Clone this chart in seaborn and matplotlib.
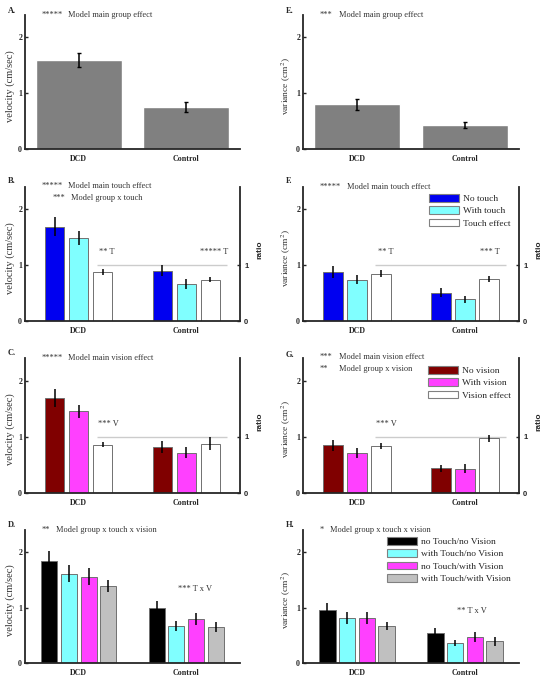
import matplotlib
matplotlib.use("Agg")
import matplotlib.pyplot as plt
from matplotlib.patches import Patch
from matplotlib.container import BarContainer
import seaborn as sns
import pandas as pd

# groups on the x axis
groups = ["DCD", "Control"]

# A / E: main group effect
vel_group = [1.59, 0.76]
vel_group_err = [0.13, 0.09]
var_group = [0.80, 0.43]
var_group_err = [0.095, 0.06]

# B / F: touch conditions (rows = condition, cols = group)
touch_conds = ["No touch", "With touch", "Touch effect"]
vel_touch = [[1.69, 0.90], [1.49, 0.66], [0.88, 0.74]]
vel_touch_err = [[0.17, 0.10], [0.12, 0.09], [0.05, 0.05]]
var_touch = [[0.88, 0.51], [0.74, 0.39], [0.845, 0.756]]
var_touch_err = [[0.11, 0.085], [0.085, 0.065], [0.06, 0.055]]

# C / G: vision conditions
vision_conds = ["No vision", "With vision", "Vision effect"]
vel_vision = [[1.69, 0.82], [1.45, 0.72], [0.86, 0.88]]
vel_vision_err = [[0.16, 0.10], [0.12, 0.10], [0.05, 0.11]]
var_vision = [[0.85, 0.44], [0.71, 0.43], [0.83, 0.97]]
var_vision_err = [[0.10, 0.06], [0.095, 0.08], [0.055, 0.055]]

# D / H: touch x vision
tv_conds = ["no Touch/no Vision", "with Touch/no Vision",
            "no Touch/with Vision", "with Touch/with Vision"]
vel_tv = [[1.84, 1.00], [1.61, 0.66], [1.56, 0.79], [1.39, 0.65]]
vel_tv_err = [[0.18, 0.12], [0.15, 0.09], [0.16, 0.105], [0.10, 0.095]]
var_tv = [[0.95, 0.54], [0.81, 0.36], [0.81, 0.47], [0.67, 0.39]]
var_tv_err = [[0.135, 0.085], [0.11, 0.06], [0.11, 0.09], [0.07, 0.085]]

touch_colors = ["#0000f0", "#80ffff", "#ffffff"]
vision_colors = ["#800000", "#ff40ff", "#ffffff"]
tv_colors = ["#000000", "#80ffff", "#ff40ff", "#c0c0c0"]

sns.set_style("ticks")
plt.rcParams['font.family'] = ['Liberation Serif', 'DejaVu Serif']
plt.rcParams['mathtext.fontset'] = 'stix'

W, H = 544, 681
fig = plt.figure(figsize=(W / 100, H / 100), dpi=100)


def px_axes(left, top, right, bottom):
    return fig.add_axes([left / W, 1 - bottom / H, (right - left) / W, (bottom - top) / H])


def ftext(x, y, s, **kw):
    kw.setdefault("fontsize", 6)
    kw.setdefault("va", "center")
    fig.text(x / W, 1 - y / H, s, **kw)


def style(ax, ylab, ylab_size, ratio=False):
    ax.set_ylim(0, 2.4)
    ax.set_xlim(-0.5, 1.5)
    ax.set_yticks([0, 1, 2])
    ax.set_yticklabels(["0", "1", "2"], fontweight="bold", fontsize=5.8)
    ax.tick_params(axis="y", direction="in", length=2.5, width=1, pad=2)
    ax.tick_params(axis="x", length=0, pad=4)
    for lab in ax.get_xticklabels():
        lab.set_fontweight("bold")
        lab.set_fontsize(5.8)
    ax.set_xlabel("")
    ax.set_ylabel(ylab, fontsize=ylab_size, color="#333333")
    ax.yaxis.set_label_coords(-0.045, 0.47)
    ax.spines["top"].set_visible(False)
    ax.spines["right"].set_visible(False)
    ax.spines["left"].set_linewidth(1.3)
    ax.spines["bottom"].set_linewidth(1.3)
    if ratio:
        ax2 = ax.twinx()
        ax2.set_ylim(0, 2.4)
        ax2.set_yticks([0, 1])
        ax2.set_yticklabels(["0", "1"], fontweight="bold", fontsize=5.5,
                            family="Liberation Sans")
        ax2.tick_params(axis="y", direction="in", length=2.5, width=1, pad=3)
        ax2.spines["top"].set_visible(False)
        ax2.spines["left"].set_visible(False)
        ax2.spines["bottom"].set_visible(False)
        ax2.spines["right"].set_linewidth(1.3)
        ax2.set_ylabel("ratio", fontsize=6, fontweight="bold", family="Liberation Sans")
        ax2.yaxis.set_label_coords(1.075, 0.53)
        ax.hlines(1, 0.17, 1.38, color="#cccccc", lw=1, zorder=0)


def add_err(ax, errs, capsize=0):
    bars = [c for c in ax.containers if isinstance(c, BarContainer)]
    for i, cont in enumerate(bars):
        xs = [b.get_x() + b.get_width() / 2 for b in cont]
        ys = [b.get_height() for b in cont]
        ax.errorbar(xs, ys, yerr=errs[i], fmt="none", ecolor="black",
                    elinewidth=1.1, capsize=capsize, capthick=1, zorder=5)


def group_panel(ax, vals, errs, ylab, ylab_size):
    df = pd.DataFrame({"group": groups, "value": vals})
    sns.barplot(data=df, x="group", y="value", color="#808080", width=0.8,
                errorbar=None, saturation=1, ax=ax)
    add_err(ax, [errs], capsize=1.5)
    style(ax, ylab, ylab_size)


def cond_panel(ax, vals, errs, conds, colors, ylab, ylab_size, ratio, width, gap):
    rows = []
    for c, row in zip(conds, vals):
        for g, v in zip(groups, row):
            rows.append({"group": g, "cond": c, "value": v})
    df = pd.DataFrame(rows)
    sns.barplot(data=df, x="group", y="value", hue="cond", order=groups,
                hue_order=conds, palette=colors, width=width, gap=gap,
                errorbar=None, saturation=1, edgecolor="#707070", linewidth=0.7,
                legend=False, ax=ax)
    add_err(ax, errs)
    style(ax, ylab, ylab_size, ratio)


def legend(ax, conds, colors, x, y):
    handles = [Patch(facecolor=c, edgecolor="#808080", linewidth=0.8) for c in colors]
    ax.legend(handles, conds, loc="upper left", bbox_to_anchor=(x / W, 1 - y / H),
              bbox_transform=fig.transFigure, frameon=False, fontsize=6.8,
              handlelength=3.2, handleheight=0.9, handletextpad=0.4,
              labelspacing=0.33, borderaxespad=0, borderpad=0)


vel_lab = "velocity (cm/sec)"
var_lab = "variance (cm$^2$)"
VEL_SZ, VAR_SZ = 7.5, 6.8

L0, L1 = 25, 240
R0, R1 = 303, 519
rows_px = [(15, 149), (187, 321), (358, 493), (530, 663)]

axA = px_axes(L0, rows_px[0][0], L1, rows_px[0][1])
group_panel(axA, vel_group, vel_group_err, vel_lab, VEL_SZ)
axE = px_axes(R0, rows_px[0][0], R1, rows_px[0][1])
group_panel(axE, var_group, var_group_err, var_lab, VAR_SZ)

axB = px_axes(L0, rows_px[1][0], L1, rows_px[1][1])
cond_panel(axB, vel_touch, vel_touch_err, touch_conds, touch_colors, vel_lab, VEL_SZ, True, 0.667, 0.2)
axF = px_axes(R0, rows_px[1][0], R1, rows_px[1][1])
cond_panel(axF, var_touch, var_touch_err, touch_conds, touch_colors, var_lab, VAR_SZ, True, 0.667, 0.2)
legend(axF, touch_conds, touch_colors, 429, 194)

axC = px_axes(L0, rows_px[2][0], L1, rows_px[2][1])
cond_panel(axC, vel_vision, vel_vision_err, vision_conds, vision_colors, vel_lab, VEL_SZ, True, 0.667, 0.2)
axG = px_axes(R0, rows_px[2][0], R1, rows_px[2][1])
cond_panel(axG, var_vision, var_vision_err, vision_conds, vision_colors, var_lab, VAR_SZ, True, 0.667, 0.2)
legend(axG, vision_conds, vision_colors, 428, 366)

axD = px_axes(L0, rows_px[3][0], L1, rows_px[3][1])
cond_panel(axD, vel_tv, vel_tv_err, tv_conds, tv_colors, vel_lab, VEL_SZ, False, 0.73, 0.18)
axH = px_axes(R0, rows_px[3][0], R1, rows_px[3][1])
cond_panel(axH, var_tv, var_tv_err, tv_conds, tv_colors, var_lab, VAR_SZ, False, 0.73, 0.18)
legend(axH, tv_conds, tv_colors, 387, 537)

# significance annotations inside panels
ann = dict(fontsize=6, color="#333333")
axB.text(0.19, 1.2, "** T", **ann)
axB.text(1.39, 1.2, "***** T", ha="right", **ann)
axF.text(0.19, 1.2, "** T", **ann)
axF.text(1.32, 1.2, "*** T", ha="right", **ann)
axC.text(0.18, 1.2, "*** V", **ann)
axG.text(0.18, 1.2, "*** V", **ann)
axD.text(0.92, 1.3, "*** T x V", **ann)
axH.text(0.93, 0.9, "** T x V", **ann)

# panel letters
for lab, x, y in [("A.", 8, 11), ("B.", 8, 181), ("C.", 8, 353), ("D.", 8, 525),
                  ("E.", 286, 11), ("F.", 286, 181), ("G.", 286, 355), ("H.", 286, 525)]:
    ftext(x, y, lab, fontweight="bold")

# model effect notes
notes = [
    (42, 68, 15, "*****", "Model main group effect"),
    (42, 68, 186, "*****", "Model main touch effect"),
    (53, 71, 198, "***", "Model group x touch"),
    (42, 68, 358, "*****", "Model main vision effect"),
    (42, 56, 530, "**", "Model group x touch x vision"),
    (320, 339, 15, "***", "Model main group effect"),
    (320, 347, 187, "*****", "Model main touch effect"),
    (320, 339, 357, "***", "Model main vision effect"),
    (320, 339, 369, "**", "Model group x vision"),
    (320, 330, 530, "*", "Model group x touch x vision"),
]
for xs, xt, y, stars, txt in notes:
    ftext(xs, y, stars, color="#333333")
    ftext(xt, y, txt, color="#333333")

fig.savefig("out.png", dpi=100)
